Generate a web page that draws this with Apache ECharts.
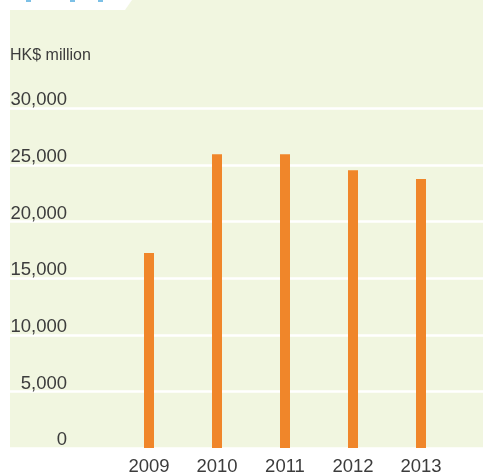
<!DOCTYPE html>
<html>
<head>
<meta charset="utf-8">
<script src="https://cdn.jsdelivr.net/npm/echarts@6/dist/echarts.min.js"></script>
<style>
  html, body { margin: 0; padding: 0; background: #ffffff; }
  #chart { width: 483px; height: 476px; }
</style>
</head>
<body>
<div id="chart"></div>
<script>
// Annual amounts, HK$ million
const years = ['2009', '2010', '2011', '2012', '2013'];
const amounts = [17220, 25950, 25950, 24540, 23750];
const yTicks = [0, 5000, 10000, 15000, 20000, 25000, 30000];

const textColor = '#3c3c3c';
const fontFamily = 'Liberation Sans, Arial, sans-serif';

const chart = echarts.init(document.getElementById('chart'), null, { renderer: 'canvas' });

const plotTop = 108.3;
const plotBottom = 476 - 448.3;

chart.setOption({
  animation: false,
  backgroundColor: '#ffffff',
  graphic: [
    // light green panel
    { type: 'rect', z: -10, shape: { x: 10, y: 0, width: 473, height: 448 }, style: { fill: '#F1F6E0' } },
    // white tab cut into the top-left corner
    { type: 'polygon', z: -9, shape: { points: [[10, 0], [132, 0], [125, 10], [10, 10]] }, style: { fill: '#ffffff' } },
    // small blue marks along the top edge
    { type: 'rect', z: -8, shape: { x: 26, y: 0, width: 5, height: 2 }, style: { fill: '#7cc0e6' } },
    { type: 'rect', z: -8, shape: { x: 70, y: 0, width: 5, height: 2 }, style: { fill: '#7cc0e6' } },
    { type: 'rect', z: -8, shape: { x: 98, y: 0, width: 5, height: 2 }, style: { fill: '#7cc0e6' } },
    {
      type: 'text', left: 10, top: 48,
      style: { text: 'HK$ million', fill: textColor, font: '16px ' + fontFamily }
    }
  ],
  grid: [
    { left: 10, right: 0, top: plotTop, bottom: plotBottom },
    { left: 115, width: 340, top: plotTop, bottom: plotBottom }
  ],
  xAxis: [
    { gridIndex: 0, type: 'value', show: false, min: 0, max: 1 },
    {
      gridIndex: 1, type: 'category', data: years,
      axisLine: { show: false }, axisTick: { show: false },
      axisLabel: { color: textColor, fontSize: 18.5, fontFamily: fontFamily, margin: 9 }
    }
  ],
  yAxis: [
    {
      gridIndex: 0, type: 'value', min: yTicks[0], max: yTicks[yTicks.length - 1], interval: 5000,
      axisLine: { show: false }, axisTick: { show: false },
      splitLine: { show: true, lineStyle: { color: '#ffffff', width: 2.5 } },
      axisLabel: {
        inside: true, margin: 57, align: 'right', verticalAlign: 'bottom',
        lineHeight: 16,
        color: textColor, fontSize: 18.5, fontFamily: fontFamily,
        formatter: v => v.toLocaleString('en-US')
      }
    },
    {
      gridIndex: 1, type: 'value', min: yTicks[0], max: yTicks[yTicks.length - 1], interval: 5000,
      show: false, splitLine: { show: false }
    }
  ],
  series: [
    {
      type: 'bar', xAxisIndex: 1, yAxisIndex: 1, data: amounts,
      barWidth: 10, itemStyle: { color: '#F0862A' }
    }
  ]
});
</script>
</body>
</html>
